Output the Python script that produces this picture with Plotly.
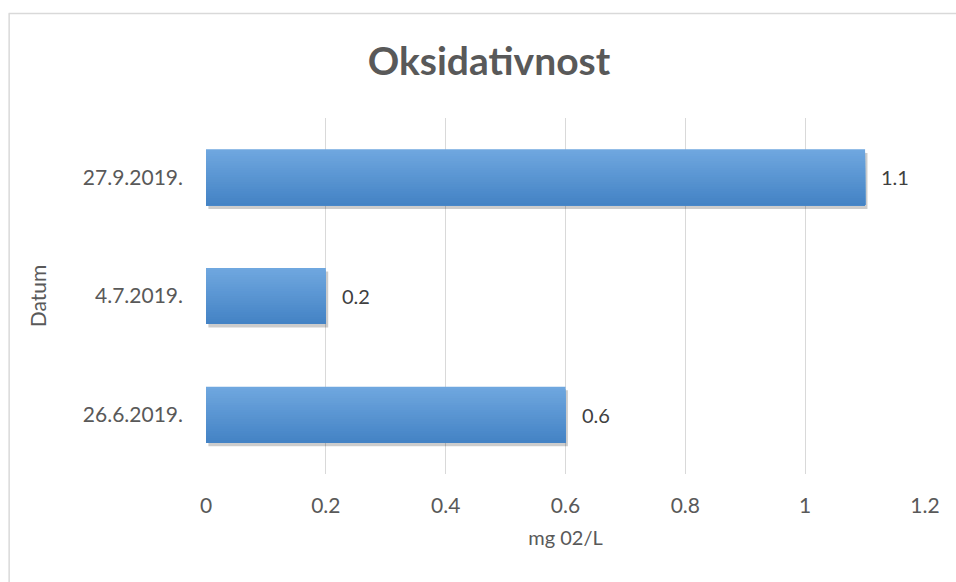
import plotly.graph_objects as go

categories = ["26.6.2019.", "4.7.2019.", "27.9.2019."]
values = [0.6, 0.2, 1.1]
x_ticks = [0, 0.2, 0.4, 0.6, 0.8, 1.0, 1.2]
x_tick_labels = ["0", "0.2", "0.4", "0.6", "0.8", "1", "1.2"]

title_text = "Oksidativnost"
x_title = "mg 02/L"
y_title = "Datum"

FONT = "Lato, Carlito, 'Open Sans', sans-serif"
GRAY = "#595959"

fig = go.Figure()

bar_w = 0.472
# shadow
fig.add_trace(go.Bar(
    x=values, y=categories, orientation="h", base=0.004,
    width=bar_w, offset=-bar_w / 2 - 0.03,
    marker=dict(color="rgba(0,0,0,0.20)", line=dict(width=0)),
    hoverinfo="skip", showlegend=False,
))

# gradient bar built from layered bars (top colour full height, darker layers from bottom)
top = (0x6f, 0xa7, 0xdf)
bot = (0x44, 0x83, 0xc5)
N = 24
for k in range(N):
    t = (N - 1 - k) / (N - 1)
    c = tuple(round(bot[j] + (top[j] - bot[j]) * t) for j in range(3))
    h = bar_w * (N - k) / N
    fig.add_trace(go.Bar(
        x=values, y=categories, orientation="h",
        width=h, offset=-bar_w / 2,
        marker=dict(color="rgb(%d,%d,%d)" % c, line=dict(width=0)),
        hoverinfo="skip", showlegend=False,
    ))

annotations = [
    dict(x=v, y=c, text=str(v), showarrow=False, xanchor="left", xshift=14,
         font=dict(family=FONT, size=20, color="#404040"))
    for v, c in zip(values, categories)
]

L, R, T, B = 205.5, 31, 118, 108
W, H = 956, 582
pw, ph = W - L - R, H - T - B
px = lambda x: (x - L) / pw
py = lambda y: (H - B - y) / ph

fig.update_layout(
    width=W, height=H, barmode="overlay",
    margin=dict(l=L, r=R, t=T, b=B),
    paper_bgcolor="white", plot_bgcolor="white",
    title=dict(text="<b>%s</b>" % title_text, x=489 / W,
               xanchor="center", y=1 - 61 / H, yanchor="middle",
               font=dict(family=FONT, size=39, color=GRAY)),
    xaxis=dict(range=[0, 1.2], tickvals=x_ticks, ticktext=x_tick_labels,
               showgrid=True, gridcolor="#d9d9d9", gridwidth=1, zeroline=False,
               showline=False, ticks="", ticklabelstandoff=17,
               tickfont=dict(family=FONT, size=21, color=GRAY),
               title=dict(text=x_title, standoff=14,
                          font=dict(family=FONT, size=20, color=GRAY))),
    yaxis=dict(categoryorder="array", categoryarray=categories,
               showgrid=False, zeroline=False, showline=False, ticks="",
               ticklabelstandoff=22,
               tickfont=dict(family=FONT, size=21, color=GRAY),
               title=dict(text=y_title, standoff=30,
                          font=dict(family=FONT, size=21, color=GRAY))),
    annotations=annotations,
    shapes=[
        dict(type="line", xref="paper", yref="paper", x0=px(8), x1=px(W + 10),
             y0=py(13.5), y1=py(13.5), line=dict(color="#d9d9d9", width=1.5)),
        dict(type="line", xref="paper", yref="paper", x0=px(8.5), x1=px(8.5),
             y0=py(13.5), y1=py(H + 10), line=dict(color="#d9d9d9", width=1.5)),
    ],
)

fig.write_html("out.html", config={"displayModeBar": False},
               post_script="document.body.style.margin='0';document.body.style.overflow='hidden';")
